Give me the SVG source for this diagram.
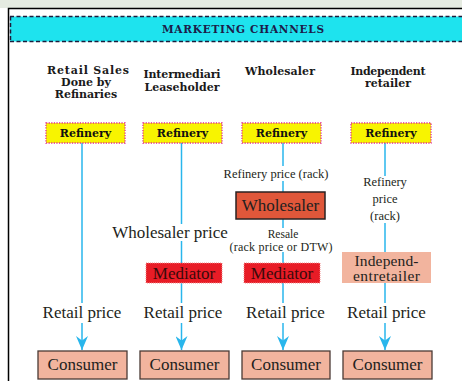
<svg xmlns="http://www.w3.org/2000/svg" width="462" height="381" viewBox="0 0 462 381">
<defs>
<style>
.hd{font-family:"DejaVu Serif",serif;font-weight:bold;font-size:11px;fill:#1a1a1a;text-anchor:middle}
.lbl{font-family:"Liberation Serif","Times New Roman",serif;fill:#231f20;text-anchor:middle}
.big{font-size:17px}
.sm{font-size:12.5px}
.ref rect{fill:#f8f400;stroke:#e0308a;stroke-width:1.3;stroke-dasharray:1.3 1.3}
.ref text{font-family:"DejaVu Serif",serif;font-weight:bold;font-size:11px;fill:#111;text-anchor:middle}
.med rect{fill:#e81c26;stroke:#f28a8a;stroke-width:1;stroke-dasharray:1 1}
.cons rect{fill:#f2b49e;stroke:#4a3a35;stroke-width:1.3}
.conn line{stroke:#29b6ec;stroke-width:1.5}
</style>
<marker id="ah" markerUnits="userSpaceOnUse" markerWidth="14" markerHeight="12" refX="14" refY="6" orient="auto">
<path d="M0,0 L14,6 L0,12 L4.5,6 Z" fill="#29b6ec"/>
</marker>
</defs>
<rect x="0" y="0" width="462" height="381" fill="#ffffff"/>
<rect x="0" y="0" width="462" height="8" fill="#e5ebe1"/>
<path d="M8.5,381 L8.5,8.5 L462,8.5" fill="none" stroke="#000" stroke-width="1.5"/>
<g id="header">
<rect x="10" y="16.5" width="452" height="25" fill="#1ee3ee"/>
<path d="M10,16.5 L462,16.5 M10,41.5 L462,41.5 M10.5,16.5 L10.5,41.5" fill="none" stroke="#1c1c3c" stroke-width="1.5" stroke-dasharray="4 2.5"/>
<text x="243" y="33" style="font-family:'DejaVu Serif',serif;font-size:10.5px;fill:#1c1c4a;text-anchor:middle;font-weight:bold" textLength="162">MARKETING CHANNELS</text>
</g>
<g id="col-headers">
<text class="hd" x="47" y="74" style="text-anchor:start" textLength="82">Retail   Sales</text>
<text class="hd" x="86" y="86">Done by</text>
<text class="hd" x="86" y="98">Refinaries</text>
<text class="hd" x="182" y="78" textLength="77">Intermediari</text>
<text class="hd" x="182" y="91" textLength="75">Leaseholder</text>
<text class="hd" x="280" y="75" textLength="70">Wholesaler</text>
<text class="hd" x="388" y="75" textLength="75">Independent</text>
<text class="hd" x="388" y="87">retailer</text>
</g>
<g id="connectors" class="conn">
<line x1="82" y1="143" x2="82" y2="303"/>
<line x1="82" y1="323" x2="82" y2="350" marker-end="url(#ah)"/>
<line x1="181.5" y1="143" x2="181.5" y2="224"/>
<line x1="181.5" y1="241" x2="181.5" y2="263"/>
<line x1="181.5" y1="283" x2="181.5" y2="303"/>
<line x1="181.5" y1="323" x2="181.5" y2="350" marker-end="url(#ah)"/>
<line x1="283" y1="143" x2="283" y2="166"/>
<line x1="283" y1="181" x2="283" y2="192"/>
<line x1="283" y1="219" x2="283" y2="228"/>
<line x1="283" y1="252" x2="283" y2="263"/>
<line x1="283" y1="283" x2="283" y2="303"/>
<line x1="283" y1="323" x2="283" y2="350" marker-end="url(#ah)"/>
<line x1="385" y1="143" x2="385" y2="176"/>
<line x1="385" y1="223" x2="385" y2="252"/>
<line x1="385" y1="283" x2="385" y2="303"/>
<line x1="385" y1="323" x2="385" y2="350" marker-end="url(#ah)"/>
</g>
<g id="refinery1" class="ref"><rect x="46" y="123" width="79" height="20"/><text x="85.5" y="137">Refinery</text></g>
<g id="refinery2" class="ref"><rect x="143" y="123" width="79" height="20"/><text x="182.5" y="137">Refinery</text></g>
<g id="refinery3" class="ref"><rect x="242" y="123" width="79" height="20"/><text x="281.5" y="137">Refinery</text></g>
<g id="refinery4" class="ref"><rect x="351" y="123" width="80" height="20"/><text x="391" y="137">Refinery</text></g>
<g id="labels">
<text class="lbl big" x="170" y="238">Wholesaler price</text>
<text class="lbl sm" x="276" y="178">Refinery price (rack)</text>
<text class="lbl" x="283" y="238" style="font-size:11.5px">Resale</text>
<text class="lbl" x="281" y="250.5" style="font-size:12px" textLength="103">(rack price or DTW)</text>
<text class="lbl sm" x="385" y="186">Refinery</text>
<text class="lbl sm" x="385" y="203">price</text>
<text class="lbl sm" x="385" y="220">(rack)</text>
<text class="lbl big" x="82" y="318">Retail price</text>
<text class="lbl big" x="183" y="318">Retail price</text>
<text class="lbl big" x="285.5" y="318">Retail price</text>
<text class="lbl big" x="386.5" y="318">Retail price</text>
</g>
<g id="wholesaler"><rect x="236" y="192" width="89" height="27" fill="#e0573a" stroke="#2a2222" stroke-width="1.5"/><text class="lbl big" x="280.5" y="211">Wholesaler</text></g>
<g id="mediator2" class="med"><rect x="146" y="263" width="76" height="20"/><text class="lbl big" x="184" y="278.5" style="fill:#3a0a0a">Mediator</text></g>
<g id="mediator3" class="med"><rect x="244" y="263" width="76" height="20"/><text class="lbl big" x="282" y="278.5" style="fill:#3a0a0a">Mediator</text></g>
<g id="independ"><rect x="342" y="252" width="89" height="31" fill="#f2b49e"/><text class="lbl" x="386.5" y="265.5" style="font-size:15.5px" textLength="64">Independ-</text><text class="lbl" x="386.5" y="281" style="font-size:15.5px" textLength="67">entretailer</text></g>
<g id="consumer1" class="cons"><rect x="38" y="351" width="89" height="28"/><text class="lbl big" x="82.5" y="370">Consumer</text></g>
<g id="consumer2" class="cons"><rect x="140" y="351" width="89" height="28"/><text class="lbl big" x="184.5" y="370">Consumer</text></g>
<g id="consumer3" class="cons"><rect x="242" y="351" width="88" height="28"/><text class="lbl big" x="286" y="370">Consumer</text></g>
<g id="consumer4" class="cons"><rect x="343" y="351" width="89" height="28"/><text class="lbl big" x="387.5" y="370">Consumer</text></g>
</svg>
